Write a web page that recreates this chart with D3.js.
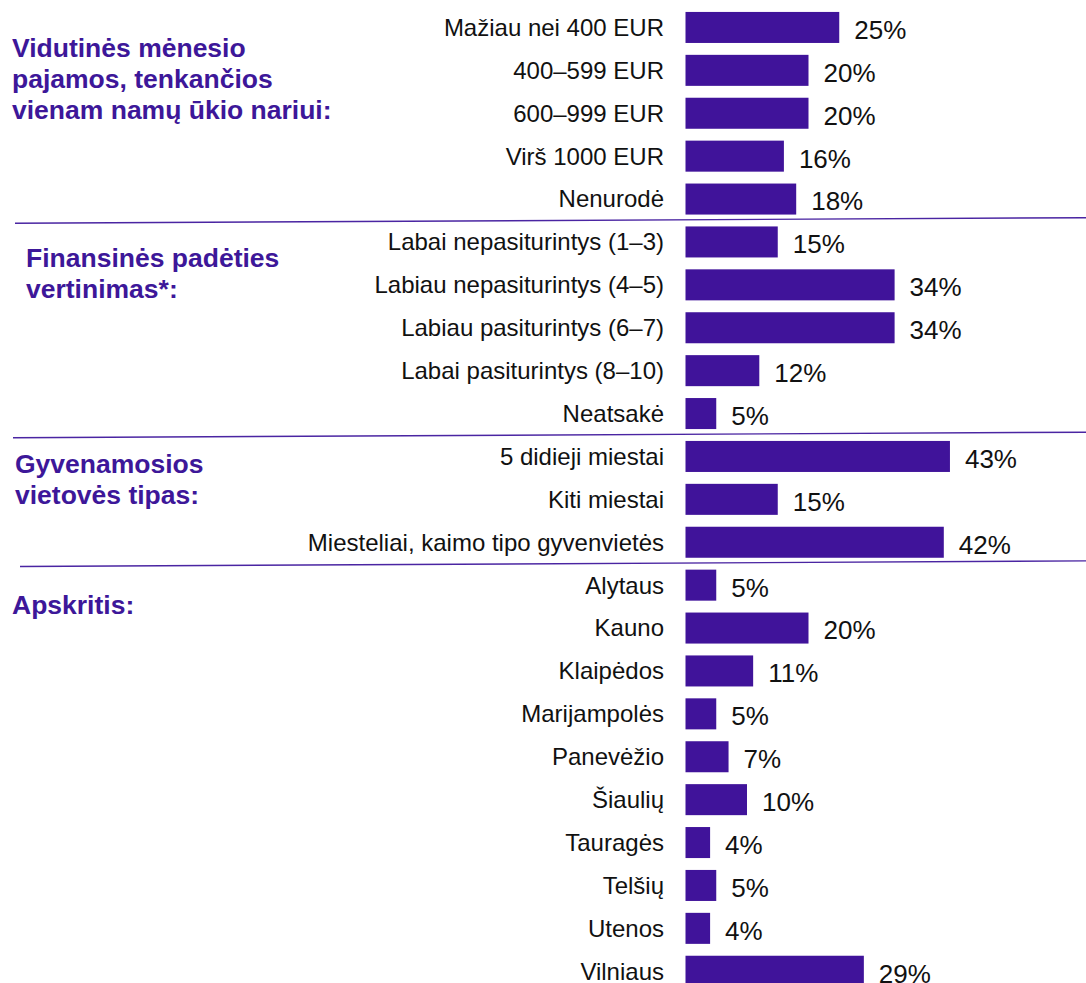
<!DOCTYPE html>
<html>
<head>
<meta charset="utf-8">
<script src="https://cdn.jsdelivr.net/npm/d3@7"></script>
<style>
  body { margin: 0; background: #fff; }
  svg { display: block; font-family: "Liberation Sans", Arial, sans-serif; }
</style>
</head>
<body>
<div id="chart"></div>
<script>
const BAR_COLOR = "#40139a";
const TITLE_COLOR = "#3d1799";
const LINE_COLOR = "#4a25a2";

// categories, grouped
const incomeCats = ["Mažiau nei 400 EUR", "400–599 EUR", "600–999 EUR", "Virš 1000 EUR", "Nenurodė"];
const incomeVals = [25, 20, 20, 16, 18];

const financeCats = ["Labai nepasiturintys (1–3)", "Labiau nepasiturintys (4–5)", "Labiau pasiturintys (6–7)", "Labai pasiturintys (8–10)", "Neatsakė"];
const financeVals = [15, 34, 34, 12, 5];

const placeCats = ["5 didieji miestai", "Kiti miestai", "Miesteliai, kaimo tipo gyvenvietės"];
const placeVals = [43, 15, 42];

const countyCats = ["Alytaus", "Kauno", "Klaipėdos", "Marijampolės", "Panevėžio", "Šiaulių", "Tauragės", "Telšių", "Utenos", "Vilniaus"];
const countyVals = [5, 20, 11, 5, 7, 10, 4, 5, 4, 29];

const groupTitles = [
  ["Vidutinės mėnesio", "pajamos, tenkančios", "vienam namų ūkio nariui:"],
  ["Finansinės padėties", "vertinimas*:"],
  ["Gyvenamosios", "vietovės tipas:"],
  ["Apskritis:"]
];

const width = 1086, height = 983;

const groups = [
  { cats: incomeCats, vals: incomeVals },
  { cats: financeCats, vals: financeVals },
  { cats: placeCats, vals: placeVals },
  { cats: countyCats, vals: countyVals }
];

// flatten into rows
let rows = [];
groups.forEach((g, gi) => {
  g.cats.forEach((c, i) => rows.push({ cat: c, val: g.vals[i], group: gi }));
});

const svg = d3.select("#chart").append("svg")
  .attr("width", width)
  .attr("height", height);

const x = d3.scaleLinear().domain([0, 100]).range([685.5, 685.5 + 615]);
const y = d3.scaleBand()
  .domain(rows.map(d => d.cat))
  .range([6, 992.7])
  .paddingInner(0.277)
  .paddingOuter(0.1385);

// bars
svg.append("g")
  .selectAll("rect")
  .data(rows)
  .enter()
  .append("rect")
  .attr("x", x(0))
  .attr("y", d => y(d.cat))
  .attr("width", d => x(d.val) - x(0))
  .attr("height", y.bandwidth())
  .attr("fill", BAR_COLOR);

// category labels
svg.append("g")
  .selectAll("text")
  .data(rows)
  .enter()
  .append("text")
  .attr("x", 664)
  .attr("y", d => y(d.cat) + y.bandwidth() / 2)
  .attr("dy", "0.35em")
  .attr("text-anchor", "end")
  .style("font-size", "24px")
  .attr("fill", "#111")
  .text(d => d.cat);

// value labels
svg.append("g")
  .selectAll("text")
  .data(rows)
  .enter()
  .append("text")
  .attr("x", d => x(d.val) + 15)
  .attr("y", d => y(d.cat) + y.bandwidth() / 2 + 2)
  .attr("dy", "0.36em")
  .style("font-size", "26px")
  .attr("fill", "#111")
  .text(d => d.val + "%");

// separators between groups (slightly tilted, like the original)
const lineStartX = [15, 13, 20];
for (let gi = 1; gi < groups.length; gi++) {
  const prev = groups[gi - 1].cats;
  const lastPrev = prev[prev.length - 1];
  const firstNext = groups[gi].cats[0];
  const mid = (y(lastPrev) + y.bandwidth() + y(firstNext)) / 2;
  svg.append("line")
    .attr("x1", lineStartX[gi - 1])
    .attr("x2", width)
    .attr("y1", mid + 2.8)
    .attr("y2", mid - 2.8)
    .attr("stroke", LINE_COLOR)
    .attr("stroke-width", 1.4);
}

// group titles
const titlePos = [[12, 57], [26, 267], [15, 473], [12, 614]];
groupTitles.forEach((lines, gi) => {
  const t = svg.append("text")
    .attr("x", titlePos[gi][0])
    .attr("y", titlePos[gi][1])
    .attr("fill", TITLE_COLOR)
    .style("font-size", "26.5px")
    .style("font-weight", "bold");
  lines.forEach((l, i) => {
    t.append("tspan")
      .attr("x", titlePos[gi][0])
      .attr("dy", i === 0 ? 0 : 31)
      .text(l);
  });
});
</script>
</body>
</html>
